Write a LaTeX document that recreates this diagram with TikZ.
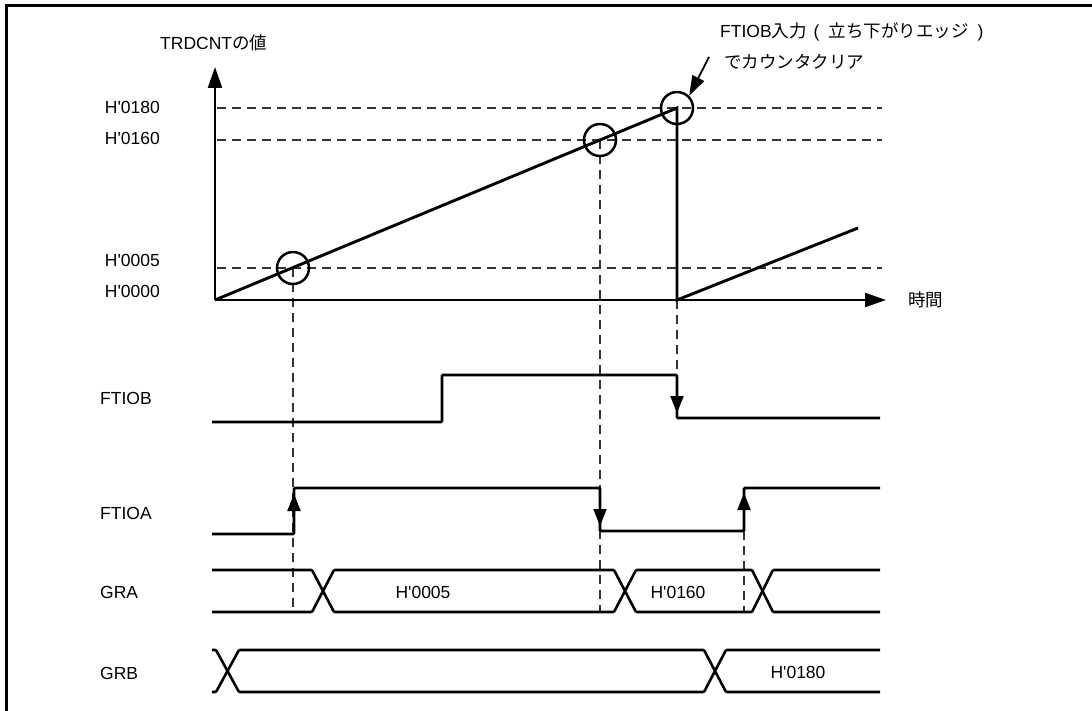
\documentclass[tikz,border=0pt]{standalone}
\usepackage{fontspec}
\setmainfont{Liberation Sans}
\newfontfamily\jpfont{Noto Sans CJK JP}
\usetikzlibrary{arrows.meta}
\newcommand{\hx}{H\textquotesingle}
\begin{document}
\begin{tikzpicture}[x=1pt,y=-1pt,
  frame/.style={line width=3pt},
  ramp/.style={line width=2.9pt},
  axis/.style={line width=2.2pt},
  wave/.style={line width=2.6pt, line join=miter, rounded corners=1pt},
  hguide/.style={line width=1.3pt, black!80, dash pattern=on 9pt off 6pt},
  vguide/.style={line width=1.3pt, black!80, dash pattern=on 9pt off 6pt},
  ringmark/.style={circle, draw, line width=2.5pt, minimum size=32pt, inner sep=0pt},
  lbl/.style={font=\fontsize{17.5}{21}\selectfont, inner sep=0pt},
  bigtip/.style={-{Triangle[length=21pt,width=14pt]}},
  edgetip/.style={-{Triangle[length=17pt,width=13pt]}}]
\useasboundingbox (0,0) rectangle (1092,711);
% frame (top and left only)
\draw[frame] (6,711) -- (6,6) -- (1092,6);

% horizontal guides
\draw[hguide] (217,108) -- (882,108);
\draw[hguide] (217,140) -- (882,140);
\draw[hguide] (217,268) -- (882,268);

% vertical guides
\draw[vguide] (293,268) -- (293,612);
\draw[vguide] (600,140) -- (600,612);
\draw[vguide] (677,300) -- (677,375);
\draw[vguide] (744,531) -- (744,612);

% axes
\coordinate (O) at (215,300);
\coordinate (Ytop) at (215,67);
\coordinate (Xend) at (886,300);
\draw[axis, bigtip] (O) -- (Ytop);
\draw[axis, bigtip] (O) -- (Xend);

% counter ramp
\coordinate (peak) at (677,108);
\coordinate (clr) at (677,300);
\coordinate (rend) at (858,228);
\draw[ramp, line join=miter] (O) -- (peak) -- (clr) -- (rend);

% circles
\node[ringmark] (c1) at (293,268) {};
\node[ringmark] (c2) at (600,140) {};
\node[ringmark] (c3) at (677,108) {};

% labels: axis
\node[lbl, anchor=west] (ylab) at (160,43) {TRDCNT{\jpfont の値}};
\node[lbl, anchor=west] (xlab) at (908,300) {\jpfont 時間};
\node[lbl, anchor=east] (v180) at (160,107) {\hx0180};
\node[lbl, anchor=east] (v160) at (160,138) {\hx0160};
\node[lbl, anchor=east] (v005) at (160,260) {\hx0005};
\node[lbl, anchor=east] (v000) at (160,291) {\hx0000};

% annotation
\node[lbl, anchor=west] (note1) at (720,32) {FTIOB{\jpfont 入力}\hspace{7pt}(\hspace{9pt}{\jpfont 立ち下がりエッジ}\hspace{9pt})};
\node[lbl, anchor=west] (note2) at (724,62) {\jpfont でカウンタクリア};
\coordinate (na) at (709,57);
\draw[line width=1.8pt, -{Triangle[length=20pt,width=13pt]}] (na) -- (c3.north east);

% signal labels
\node[lbl, anchor=west] (sB) at (100,398) {FTIOB};
\node[lbl, anchor=west] (sA) at (100,513) {FTIOA};
\node[lbl, anchor=west] (sGA) at (100,592) {GRA};
\node[lbl, anchor=west] (sGB) at (100,673) {GRB};

% FTIOB
\draw[wave] (212,422) -- (442,422) -- (442,375) -- (677,375) -- (677,418) -- (880,418);
\draw[axis, edgetip] (677,375) -- (677,413);

% FTIOA
\draw[wave] (212,534) -- (294,534) -- (294,488) -- (600,488) -- (600,531) -- (744,531) -- (744,488) -- (880,488);
\draw[axis, edgetip] (294,534) -- (294,494);
\draw[axis, edgetip] (600,488) -- (600,526);
\draw[axis, edgetip] (744,531) -- (744,493);

% GRA
\draw[wave] (212,570) -- (312,570) -- (334,612) -- (614,612) -- (636,570) -- (752,570) -- (773,612) -- (880,612);
\draw[wave] (212,612) -- (312,612) -- (334,570) -- (614,570) -- (636,612) -- (752,612) -- (773,570) -- (880,570);
\node[lbl] (gaA) at (423,592) {\hx0005};
\node[lbl] (gaB) at (678,592) {\hx0160};

% GRB
\draw[wave] (212,650) -- (216,650) -- (239,692) -- (704,692) -- (726,650) -- (880,650);
\draw[wave] (212,692) -- (216,692) -- (239,650) -- (704,650) -- (726,692) -- (880,692);
\node[lbl] (gbA) at (798,672) {\hx0180};
\end{tikzpicture}
\end{document}
